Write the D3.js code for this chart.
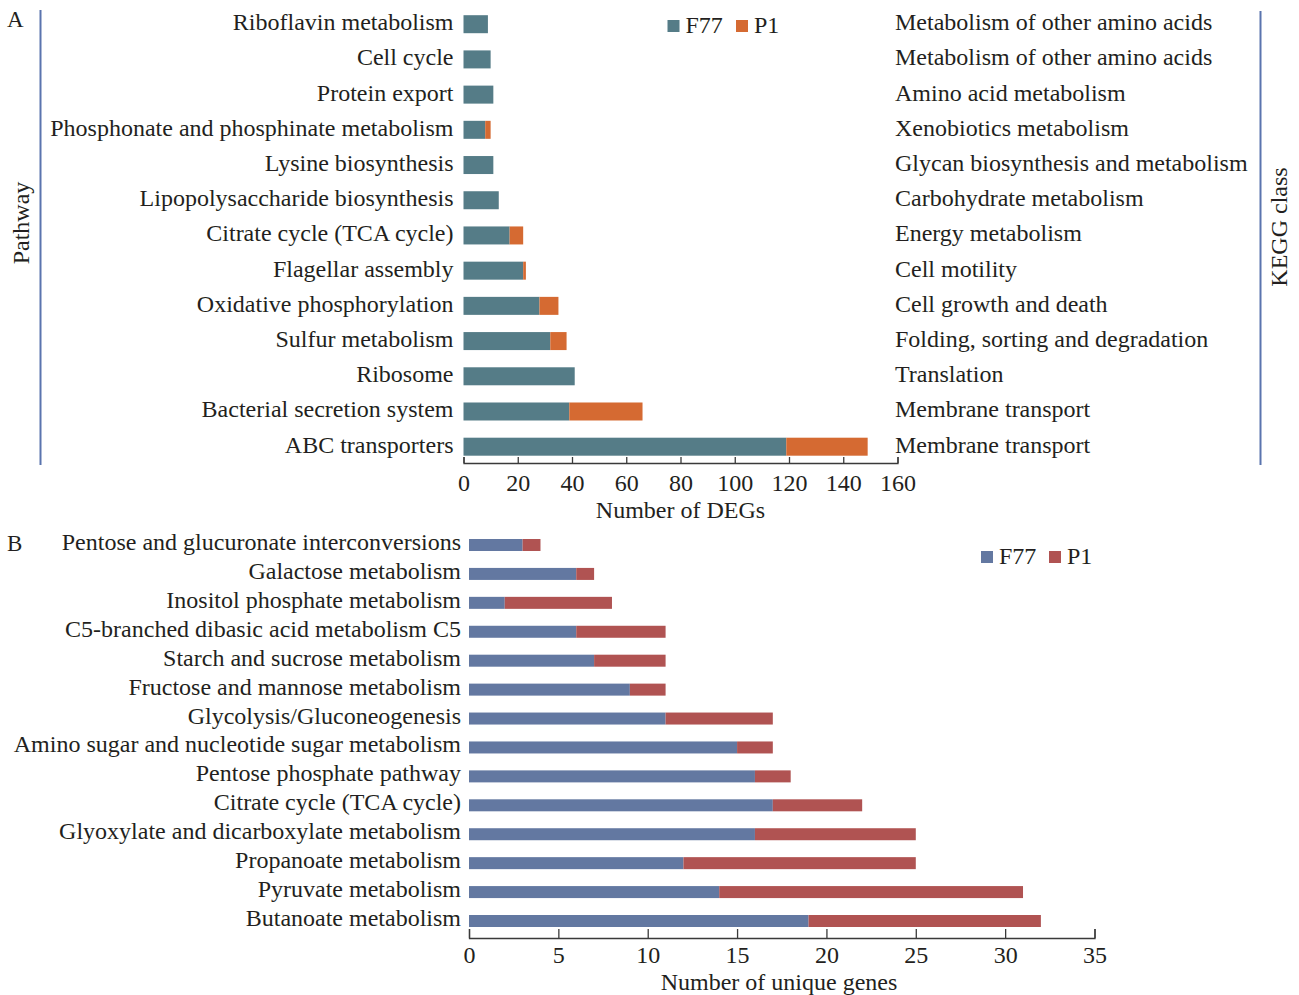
<!DOCTYPE html>
<html>
<head>
<meta charset="utf-8">
<script src="https://cdn.jsdelivr.net/npm/d3@7"></script>
<style>
  body { margin: 0; background: #fff; }
  text { font-family: "Liberation Serif", "Times New Roman", serif; fill: #231f20; }
</style>
</head>
<body>
<svg id="chart" width="1299" height="995"></svg>
<script>
// ---- Panel A: DEGs per KEGG pathway (top to bottom) ----
const pathwaysA = [
  "Riboflavin metabolism", "Cell cycle", "Protein export",
  "Phosphonate and phosphinate metabolism", "Lysine biosynthesis",
  "Lipopolysaccharide biosynthesis", "Citrate cycle (TCA cycle)",
  "Flagellar assembly", "Oxidative phosphorylation", "Sulfur metabolism",
  "Ribosome", "Bacterial secretion system", "ABC transporters"
];
const keggClassA = [
  "Metabolism of other amino acids", "Metabolism of other amino acids",
  "Amino acid metabolism", "Xenobiotics metabolism",
  "Glycan biosynthesis and metabolism", "Carbohydrate metabolism",
  "Energy metabolism", "Cell motility", "Cell growth and death",
  "Folding, sorting and degradation", "Translation",
  "Membrane transport", "Membrane transport"
];
const f77A = [9, 10, 11, 8, 11, 13, 17, 22, 28, 32, 41, 39, 119];
const p1A  = [0, 0, 0, 2, 0, 0, 5, 1, 7, 6, 0, 27, 30];
const ticksA = [0, 20, 40, 60, 80, 100, 120, 140, 160];

// ---- Panel B: unique genes per pathway (top to bottom) ----
const pathwaysB = [
  "Pentose and glucuronate interconversions", "Galactose metabolism",
  "Inositol phosphate metabolism", "C5-branched dibasic acid metabolism C5",
  "Starch and sucrose metabolism", "Fructose and mannose metabolism",
  "Glycolysis/Gluconeogenesis", "Amino sugar and nucleotide sugar metabolism",
  "Pentose phosphate pathway", "Citrate cycle (TCA cycle)",
  "Glyoxylate and dicarboxylate metabolism", "Propanoate metabolism",
  "Pyruvate metabolism", "Butanoate metabolism"
];
const f77B = [3, 6, 2, 6, 7, 9, 11, 15, 16, 17, 16, 12, 14, 19];
const p1B  = [1, 1, 6, 5, 4, 2, 6, 2, 2, 5, 9, 13, 17, 13];
const ticksB = [0, 5, 10, 15, 20, 25, 30, 35];

const seriesKeys = ["F77", "P1"];

const svg = d3.select("#chart");
const FS = 24;

function drawPanel(cfg) {
  const rows = cfg.cats.map((c, i) => ({ cat: c, F77: cfg.f77[i], P1: cfg.p1[i] }));
  const stacked = d3.stack().keys(seriesKeys)(rows);

  const x = d3.scaleLinear().domain(cfg.domain).range(cfg.xRange);
  const y = d3.scalePoint().domain(cfg.cats).range(cfg.yRange);
  const color = d3.scaleOrdinal().domain(seriesKeys).range(cfg.colors);

  const g = svg.append("g");

  // stacked bars
  g.selectAll("g.series").data(stacked).join("g")
    .attr("class", "series")
    .attr("fill", d => color(d.key))
    .selectAll("rect").data(d => d).join("rect")
      .attr("x", d => x(d[0]))
      .attr("y", d => y(d.data.cat) - cfg.barH / 2)
      .attr("width", d => Math.max(0, x(d[1]) - x(d[0])))
      .attr("height", cfg.barH);

  // pathway labels
  g.selectAll("text.cat").data(cfg.cats).join("text")
    .attr("class", "cat")
    .attr("x", cfg.xRange[0] - cfg.labelGap)
    .attr("y", d => y(d) + cfg.labelDy)
    .attr("text-anchor", "end")
    .attr("font-size", FS)
    .text(d => d);

  // x axis with inward ticks
  const axis = d3.axisBottom(x)
    .tickValues(cfg.ticks)
    .tickFormat(d3.format("d"))
    .tickSizeInner(-cfg.tickLen)
    .tickSizeOuter(-cfg.tickLen)
    .tickPadding(cfg.tickPad);
  const ax = g.append("g")
    .attr("transform", `translate(0,${cfg.axisY})`)
    .call(axis);
  ax.select(".domain").attr("stroke", "#3a3a3a").attr("stroke-width", 1.3);
  ax.selectAll(".tick line").attr("stroke", "#3a3a3a").attr("stroke-width", 1.3);
  ax.selectAll(".tick text")
    .attr("font-size", FS)
    .attr("font-family", "Liberation Serif, Times New Roman, serif")
    .attr("fill", "#231f20");

  // axis title
  g.append("text")
    .attr("x", cfg.titleX)
    .attr("y", cfg.titleY)
    .attr("text-anchor", "middle")
    .attr("font-size", FS)
    .text(cfg.title);

  // legend
  const lg = g.append("g").attr("transform", `translate(${cfg.legendX},${cfg.legendY})`);
  seriesKeys.forEach((k, i) => {
    const off = i * cfg.legendStep;
    lg.append("rect").attr("x", off).attr("y", 0).attr("width", 12).attr("height", 12)
      .attr("fill", color(k));
    lg.append("text").attr("x", off + 18).attr("y", 13).attr("font-size", FS).text(k);
  });

  return { x, y };
}

// Panel A
const a = drawPanel({
  cats: pathwaysA, f77: f77A, p1: p1A,
  domain: [0, 160], xRange: [463.5, 897.5], yRange: [24.2, 446.7],
  barH: 18, labelGap: 10, labelDy: 6,
  colors: ["#557c87", "#d56a32"],
  ticks: ticksA, tickLen: 6, tickPad: 11, axisY: 463,
  title: "Number of DEGs", titleX: 680.5, titleY: 518,
  legendX: 667.5, legendY: 20, legendStep: 68.5
});

// KEGG class labels on the right of panel A
svg.append("g").selectAll("text").data(keggClassA).join("text")
  .attr("x", 895)
  .attr("y", (d, i) => a.y(pathwaysA[i]) + 6)
  .attr("font-size", FS)
  .text(d => d);

// Side brackets and rotated titles
svg.append("line").attr("x1", 40.5).attr("x2", 40.5).attr("y1", 10).attr("y2", 465)
  .attr("stroke", "#5a74ae").attr("stroke-width", 2);
svg.append("line").attr("x1", 1260.5).attr("x2", 1260.5).attr("y1", 11).attr("y2", 465)
  .attr("stroke", "#5a74ae").attr("stroke-width", 2);
svg.append("text").attr("transform", "translate(29,223) rotate(-90)")
  .attr("text-anchor", "middle").attr("font-size", FS).text("Pathway");
svg.append("text").attr("transform", "translate(1287,227) rotate(-90)")
  .attr("text-anchor", "middle").attr("font-size", FS).text("KEGG class");

// Panel letters
svg.append("text").attr("x", 7).attr("y", 27).attr("font-size", 23).text("A");
svg.append("text").attr("x", 7).attr("y", 551).attr("font-size", 23).text("B");

// Panel B
drawPanel({
  cats: pathwaysB, f77: f77B, p1: p1B,
  domain: [0, 35], xRange: [469, 1094.5], yRange: [545, 921],
  barH: 12, labelGap: 8, labelDy: 5,
  colors: ["#6378a1", "#b05352"],
  ticks: ticksB, tickLen: 9, tickPad: 8, axisY: 938,
  title: "Number of unique genes", titleX: 779, titleY: 990,
  legendX: 981, legendY: 551, legendStep: 68
});
</script>
</body>
</html>
